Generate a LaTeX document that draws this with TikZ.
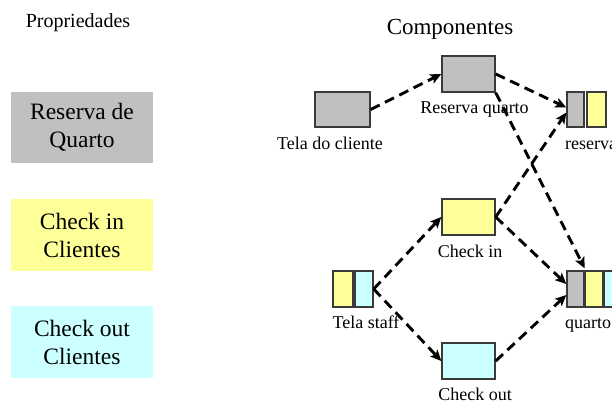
\documentclass[tikz,border=0pt]{standalone}
\usepackage{fontspec}
\setmainfont{Liberation Serif}
\usetikzlibrary{arrows.meta}
\definecolor{boxgray}{HTML}{C0C0C0}
\definecolor{boxyellow}{HTML}{FFFF99}
\definecolor{boxcyan}{HTML}{CCFFFF}
\definecolor{edge}{HTML}{3A3A3A}
\tikzset{
  legend/.style={inner sep=0, minimum width=142pt, align=center,
    font=\fontsize{23.5}{28}\selectfont},
  comp/.style={draw=edge, line width=1.4pt, inner sep=0, minimum height=36pt},
  wide/.style={comp, minimum width=53pt},
  slim/.style={comp, minimum width=18pt},
  lbl/.style={anchor=base, inner sep=0, font=\fontsize{18}{21}\selectfont},
  flow/.style={line width=2.9pt, dash pattern=on 10pt off 6pt,
    -{Stealth[length=11pt,width=10pt,inset=2.5pt]}}
}
\begin{document}
\begin{tikzpicture}[x=1pt,y=-1pt]
\useasboundingbox (0,0) rectangle (612,403);
\clip (0,0) rectangle (612,403);

% headings
\node[anchor=base, inner sep=0, font=\fontsize{20}{24}\selectfont] (hprop) at (78,28) {Propriedades};
\node[anchor=base, inner sep=0, font=\fontsize{23}{27}\selectfont] (hcomp) at (450,35) {Componentes};

% legend of properties
\node[legend, fill=boxgray, minimum height=71pt] (lres) at (82,127.5) {Reserva de\\Quarto};
\node[legend, fill=boxyellow, minimum height=72pt] (lin) at (82,235) {Check in\\Clientes};
\node[legend, fill=boxcyan, minimum height=72pt] (lout) at (82,342) {Check out\\Clientes};

% components
\node[wide, fill=boxgray, minimum width=55pt, minimum height=35pt] (tc) at (342.5,109.5) {};
\node[wide, fill=boxgray] (rq) at (468.5,74) {};
\node[slim, fill=boxgray, minimum width=17pt, minimum height=35pt] (rA) at (575.5,109.5) {};
\node[slim, fill=boxyellow, minimum width=19pt, minimum height=35pt] (rB) at (596.5,109.5) {};
\node[wide, fill=boxyellow] (ci) at (468.5,217) {};
\node[wide, fill=boxcyan] (co) at (468.5,361) {};
\node[slim, fill=boxyellow, minimum width=20pt] (sA) at (343,289) {};
\node[slim, fill=boxcyan] (sB) at (364,289) {};
\node[slim, fill=boxgray, minimum width=17pt] (qA) at (575.5,289) {};
\node[slim, fill=boxyellow] (qB) at (594,289) {};
\node[slim, fill=boxcyan, minimum width=19pt] (qC) at (613.5,289) {};

% component labels
\node[lbl] (ltc) at (330,150) {Tela do cliente};
\node[lbl] (lrq) at (474.5,114) {Reserva quarto};
\node[lbl, anchor=base west] (lr) at (565,150) {reserva};
\node[lbl] (lci) at (470,257) {Check in};
\node[lbl] (lco) at (475,400) {Check out};
\node[lbl] (lts) at (366,328) {Tela staff};
\node[lbl, anchor=base west] (lq) at (565,328) {quarto};

% flows between components
\draw[flow] (tc.east) -- (rq.west);
\draw[flow] (rq.east) -- ([yshift=2pt]rA.west);
\draw[flow] (rq.south east) -- ([yshift=2pt]qA.north east);
\draw[flow] (ci.east) -- ([yshift=-3pt]rA.west);
\draw[flow] (ci.east) -- ([yshift=5pt]qA.west);
\draw[flow] (sB.east) -- (ci.west);
\draw[flow] (sB.east) -- (co.west);
\draw[flow] (co.east) -- ([yshift=-6pt]qA.west);
\end{tikzpicture}
\end{document}
